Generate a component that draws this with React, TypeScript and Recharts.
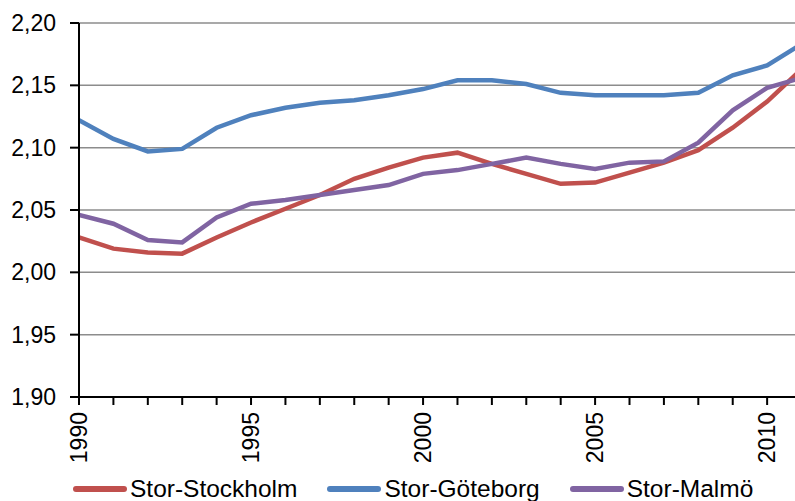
import { LineChart, Line, XAxis, YAxis, CartesianGrid, Legend } from 'recharts'

const years = [1990, 1991, 1992, 1993, 1994, 1995, 1996, 1997, 1998, 1999, 2000, 2001, 2002, 2003, 2004, 2005, 2006, 2007, 2008, 2009, 2010, 2011]
const stockholm = [2.028, 2.019, 2.016, 2.015, 2.028, 2.040, 2.051, 2.062, 2.075, 2.084, 2.092, 2.096, 2.087, 2.079, 2.071, 2.072, 2.080, 2.088, 2.098, 2.116, 2.137, 2.163]
const goteborg = [2.122, 2.107, 2.097, 2.099, 2.116, 2.126, 2.132, 2.136, 2.138, 2.142, 2.147, 2.154, 2.154, 2.151, 2.144, 2.142, 2.142, 2.142, 2.144, 2.158, 2.166, 2.183]
const malmo = [2.046, 2.039, 2.026, 2.024, 2.044, 2.055, 2.058, 2.062, 2.066, 2.070, 2.079, 2.082, 2.087, 2.092, 2.087, 2.083, 2.088, 2.089, 2.104, 2.130, 2.148, 2.156]
const yTicks = [1.9, 1.95, 2.0, 2.05, 2.1, 2.15, 2.2]

const series = [
  { key: 'stockholm', name: 'Stor-Stockholm', color: '#C0504D' },
  { key: 'goteborg', name: 'Stor-Göteborg', color: '#4F81BD' },
  { key: 'malmo', name: 'Stor-Malmö', color: '#8064A2' },
]

const data = years.map((year, i) => ({
  year,
  stockholm: stockholm[i],
  goteborg: goteborg[i],
  malmo: malmo[i],
}))

const FONT = '"Liberation Sans", Arial, sans-serif'

function YearTick({ x, y, payload }: any) {
  if (payload.value % 5 !== 0) return <g />
  return (
    <g transform={`translate(${x},${y})`}>
      <text transform="rotate(-90)" textAnchor="end" dy="0.36em" fontSize={23} fontFamily={FONT} fill="#000">
        {payload.value}
      </text>
    </g>
  )
}

function ChartLegend() {
  return (
    <div style={{ display: 'flex', alignItems: 'center', height: 24, paddingLeft: 73, gap: 30, fontFamily: FONT, fontSize: 24.5, color: '#000' }}>
      {series.map(s => (
        <div key={s.key} style={{ display: 'flex', alignItems: 'center' }}>
          <span style={{ display: 'inline-block', width: 54, height: 6, borderRadius: 3, background: s.color, marginRight: 3 }} />
          <span>{s.name}</span>
        </div>
      ))}
    </div>
  )
}

export default function App() {
  return (
    <div style={{ position: 'absolute', left: 0, top: 0, width: 795, height: 501, overflow: 'hidden', background: '#fff' }}>
      <LineChart width={795} height={501} data={data} margin={{ top: 23, right: 0, left: 0, bottom: 0 }}>
        <CartesianGrid horizontal vertical={false} stroke="#8c8c8c" strokeWidth={1.5} />
        <XAxis
          dataKey="year"
          type="number"
          domain={[1990, 2010.81]}
          allowDataOverflow
          ticks={years.slice(0, 21)}
          interval={0}
          height={80}
          tickSize={8}
          tickMargin={7}
          tick={<YearTick />}
          axisLine={{ stroke: '#000', strokeWidth: 2 }}
          tickLine={{ stroke: '#000', strokeWidth: 2 }}
        />
        <YAxis
          domain={[1.9, 2.2]}
          ticks={yTicks}
          width={79}
          tickSize={9}
          tickMargin={14}
          tickFormatter={(v: number) => v.toFixed(2).replace('.', ',')}
          tick={{ fontSize: 23, fontFamily: FONT, fill: '#000' }}
          axisLine={{ stroke: '#000', strokeWidth: 2 }}
          tickLine={{ stroke: '#000', strokeWidth: 2 }}
        />
        <Legend verticalAlign="bottom" content={<ChartLegend />} />
        {series.map(s => (
          <Line
            key={s.key}
            type="linear"
            dataKey={s.key}
            name={s.name}
            stroke={s.color}
            strokeWidth={4.5}
            dot={false}
            isAnimationActive={false}
          />
        ))}
      </LineChart>
    </div>
  )
}
